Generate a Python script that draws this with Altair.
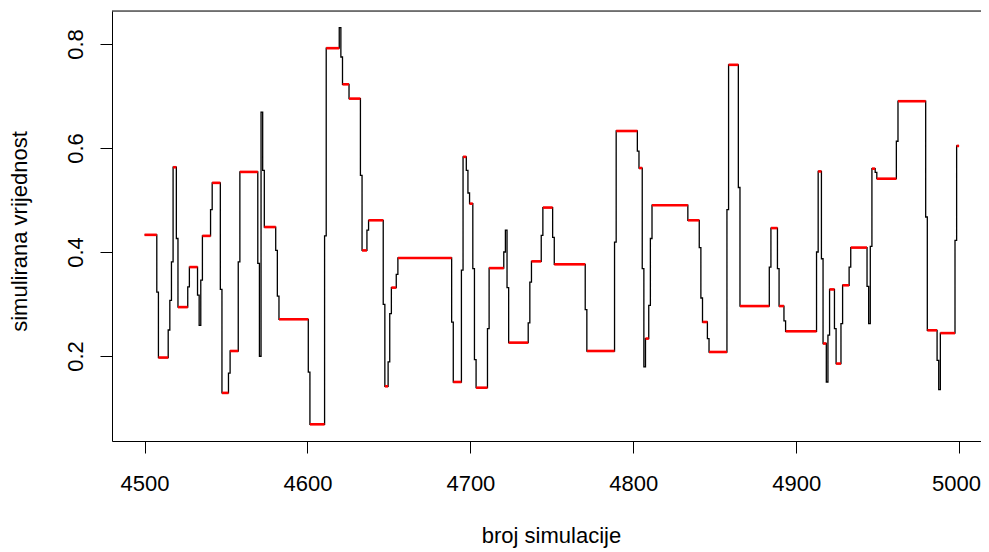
import altair as alt
import pandas as pd

# Iteration at which the chain moves to a new value, and that value.
# The value is held until the next change point.
change_iter = [
    4500, 4508, 4509, 4515, 4516, 4517, 4518, 4520, 4521, 4527, 4528, 4533, 4534, 4535, 4536,
    4541, 4542, 4547, 4548, 4552, 4553, 4558, 4559, 4570, 4571, 4572, 4573, 4574, 4581, 4582,
    4583, 4601, 4602, 4611, 4612, 4620, 4621, 4622, 4626, 4633, 4634, 4637, 4638, 4647, 4648,
    4650, 4651, 4652, 4655, 4656, 4689, 4690, 4695, 4696, 4698, 4699, 4700, 4702, 4703, 4704,
    4711, 4712, 4721, 4722, 4723, 4724, 4736, 4737, 4738, 4744, 4745, 4751, 4752, 4771, 4772,
    4789, 4790, 4803, 4804, 4806, 4807, 4808, 4810, 4811, 4812, 4834, 4841, 4842, 4843, 4846,
    4847, 4858, 4859, 4865, 4866, 4884, 4885, 4889, 4890, 4893, 4894, 4913, 4914, 4916, 4917,
    4919, 4920, 4921, 4924, 4925, 4928, 4929, 4933, 4934, 4944, 4945, 4946, 4947, 4949, 4950,
    4962, 4963, 4980, 4981, 4987, 4988, 4989, 4998, 4999,
]
change_val = [
    0.433, 0.323, 0.197, 0.250, 0.307, 0.381, 0.563, 0.426, 0.294, 0.333, 0.371, 0.317, 0.259, 0.346, 0.431,
    0.4815, 0.533, 0.328, 0.129, 0.167, 0.2096, 0.381, 0.554, 0.378, 0.1995, 0.669, 0.557, 0.448, 0.403, 0.315,
    0.2706, 0.169, 0.0686, 0.431, 0.792, 0.8315, 0.775, 0.7225, 0.695, 0.5475, 0.403, 0.442, 0.461, 0.2994, 0.1417,
    0.1885, 0.2815, 0.3315, 0.357, 0.3885, 0.265, 0.150, 0.365, 0.583, 0.557, 0.5135, 0.493, 0.368, 0.193, 0.139,
    0.2527, 0.369, 0.400, 0.442, 0.3315, 0.2257, 0.2635, 0.342, 0.382, 0.432, 0.4855, 0.428, 0.3763, 0.289, 0.2096,
    0.419, 0.6327, 0.594, 0.5615, 0.368, 0.179, 0.2335, 0.2975, 0.426, 0.490, 0.461, 0.4085, 0.3115, 0.2654, 0.2335,
    0.2077, 0.4815, 0.760, 0.524, 0.296, 0.371, 0.446, 0.368, 0.296, 0.2676, 0.2475, 0.400, 0.555, 0.387, 0.224,
    0.150, 0.240, 0.328, 0.2527, 0.1854, 0.2623, 0.336, 0.371, 0.4085, 0.334, 0.2623, 0.411, 0.5603, 0.553, 0.541,
    0.613, 0.690, 0.4673, 0.2494, 0.1917, 0.1354, 0.244, 0.4225, 0.604,
]
last_iter = 5000
x_ticks = [4500, 4600, 4700, 4800, 4900, 5000]
y_ticks = [0.2, 0.4, 0.6, 0.8]

# Build the per-iteration trace and the runs of repeated (rejected) values
trace_rows, run_rows = [], []
for k, (s, v) in enumerate(zip(change_iter, change_val)):
    e = change_iter[k + 1] - 1 if k + 1 < len(change_iter) else last_iter
    for i in range(s, e + 1):
        trace_rows.append({"i": i, "v": v})
    if e > s:
        # a held value is drawn over the whole width of its step
        run_rows.append({"s": max(s - 0.5, change_iter[0]), "e": min(e + 0.5, last_iter), "v": v})
trace = pd.DataFrame(trace_rows)
runs = pd.DataFrame(run_rows)

W, H = 869, 430
FONT = "Liberation Sans"

xscale = alt.Scale(domain=[4480, 5013.46], nice=False, zero=False)
yscale = alt.Scale(domain=[0.0365, 0.8635], nice=False, zero=False)

xaxis = alt.Axis(
    values=x_ticks, format="d", title="broj simulacije", grid=False,
    tickSize=12, tickColor="black", domainColor="black", tickWidth=1, domainWidth=1,
    labelFont=FONT, labelFontSize=22, labelColor="black", labelPadding=37,
    labelBaseline="alphabetic", labelFlush=False, labelOverlap=False,
    labelOffset={"condition": {"test": "datum.value == 5000", "value": -3}, "value": 0},
    titleFont=FONT, titleFontSize=22, titleFontWeight="normal", titleColor="black",
    titleX=439, titleY=101.5, titleBaseline="alphabetic", titleAlign="center",
)
yaxis = alt.Axis(
    values=y_ticks, format=".1f", title="simulirana vrijednost", grid=False,
    tickSize=12, tickColor="black", domainColor="black", tickWidth=1, domainWidth=1,
    labelFont=FONT, labelFontSize=22, labelColor="black", labelPadding=18,
    labelAngle=270, labelAlign="center", labelBaseline="alphabetic",
    labelFlush=False, labelOverlap=False,
    titleFont=FONT, titleFontSize=22, titleFontWeight="normal", titleColor="black",
    titleAngle=270, titleX=-85.5, titleY=220, titleBaseline="alphabetic", titleAlign="center",
)

line = alt.Chart(trace).mark_line(color="black", strokeWidth=1.3, interpolate="step").encode(
    x=alt.X("i:Q", scale=xscale, axis=xaxis),
    y=alt.Y("v:Q", scale=yscale, axis=yaxis),
)
red = alt.Chart(runs).mark_rule(color="#ff0000", strokeWidth=2.6, strokeCap="butt").encode(
    x=alt.X("s:Q", scale=xscale),
    x2="e:Q",
    y=alt.Y("v:Q", scale=yscale),
)
top = alt.Chart(pd.DataFrame({"a": [0]})).mark_rule(color="black", strokeWidth=1).encode(
    x=alt.value(0), x2=alt.value(W), y=alt.value(0)
)

chart = alt.layer(line, red, top).properties(
    width=W, height=H,
    autosize=alt.AutoSizeParams(type="none"),
    padding={"left": 104, "top": 3, "right": 0, "bottom": 110},
).configure_view(stroke=None).configure(background="white")

chart.save("out.html", embed_options={"renderer": "svg", "actions": False})
